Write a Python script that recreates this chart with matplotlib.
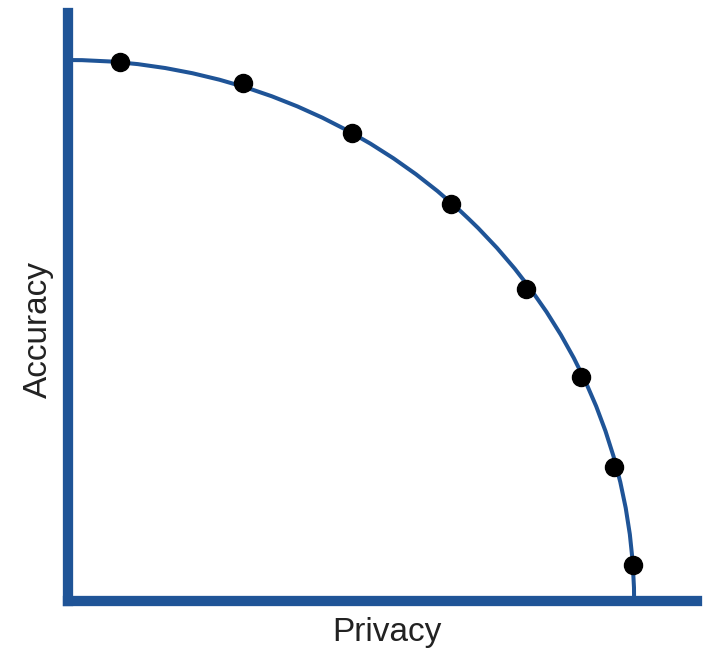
import matplotlib
matplotlib.use("Agg")
import matplotlib.pyplot as plt
from matplotlib.patches import Arc

# Data (axes units 0..1)
privacy = [0.083, 0.278, 0.452, 0.609, 0.728, 0.816, 0.868, 0.898]
accuracy = [0.917, 0.881, 0.796, 0.675, 0.531, 0.381, 0.228, 0.061]
# Frontier curve: quarter-ellipse radii
curve_rx = 0.900
curve_ry = 0.920

x_label = "Privacy"
y_label = "Accuracy"

blue = "#1f5497"
plt.rcParams['font.family'] = ['Liberation Sans', 'DejaVu Sans']

fig = plt.figure(figsize=(7.17, 6.48), dpi=100)
ax = fig.add_axes([68/717, 47/648, 629/717, 588/648])
ax.set_xlim(0, 1)
ax.set_ylim(0, 1)

for s in ['top', 'right']:
    ax.spines[s].set_visible(False)
for s in ['left', 'bottom']:
    ax.spines[s].set_linewidth(7.4)
    ax.spines[s].set_color(blue)
    ax.spines[s].set_capstyle('projecting')
ax.set_xticks([])
ax.set_yticks([])

arc = Arc((0, 0), 2*curve_rx, 2*curve_ry, theta1=0, theta2=90,
          color=blue, lw=2.9, zorder=2, clip_on=False)
ax.add_patch(arc)

ax.plot(privacy, accuracy, 'o', color='black', markersize=13, zorder=3, clip_on=False)

fig.text(387/717, 1 - 632/648, x_label, ha='center', va='center',
         fontsize=24, color='#222222')
fig.text(38/717, 1 - 329/648, y_label, ha='center', va='center',
         rotation=90, fontsize=24, color='#222222')

fig.savefig("out.png", dpi=100)
